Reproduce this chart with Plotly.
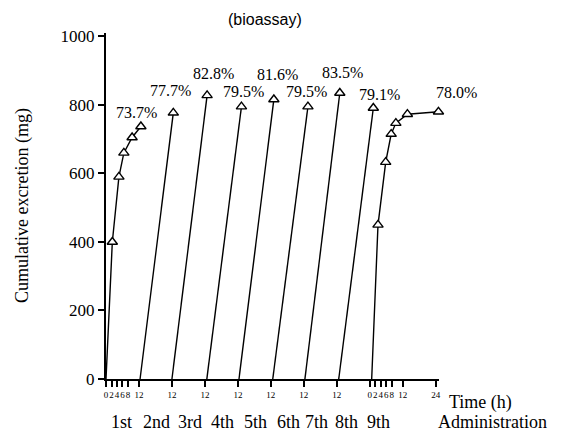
import plotly.graph_objects as go

# ---- data -------------------------------------------------------------
dose_names = ["1st", "2nd", "3rd", "4th", "5th", "6th", "7th", "8th", "9th"]
recovery_pct = [73.7, 77.7, 82.8, 79.5, 81.6, 79.5, 83.5, 79.1, 78.0]  # % of 1000 mg dose

# 1st administration: sampled collection (h, mg); last point from recovery
first_t = [0, 2.3, 4.7, 6.5, 9.5, 12.7]
first_v = [0, 400, 590, 660, 705]

# 2nd-8th administrations: 0 -> 12 h straight segments
mid_start_t = [12.4, 24.0, 36.7, 48.4, 60.7, 72.4, 84.7]
mid_end_t = [24.5, 36.8, 49.3, 61.1, 73.5, 85.1, 97.3]

# 9th administration: sampled collection up to 24 h
last_t = [96.7, 99.0, 101.8, 103.8, 105.5, 109.7, 121.0]
last_v = [0, 450, 633, 715, 747, 773]

tick_hours = [0, 2, 4, 6, 8, 12, 24, 36, 48, 60, 72, 84, 96, 98, 100, 102, 104, 108, 120]
tick_text = ["0", "2", "4", "6", "8", "12", "12", "12", "12", "12", "12", "12",
             "0", "2", "4", "6", "8", "12", "24"]

dose_mg = 1000
final_mg = [p / 100 * dose_mg for p in recovery_pct]

# ---- styling ----------------------------------------------------------
SERIF = "Liberation Serif, Times New Roman, serif"
SANS = "Liberation Sans, Arial, sans-serif"
LINE = dict(color="black", width=1.4)
MARK = dict(symbol="triangle-up", size=9, color="white",
            line=dict(color="black", width=1.4))
# label offsets (px) from each dose's final point
label_shift = [(-4, 14), (-3, 22), (6, 22), (2, 15), (4, 25),
               (-1, 15), (3, 20), (6, 14), (18, 19)]
# dose-name centres in hours
name_pos = [5.5, 18.5, 30.5, 42.5, 54.5, 66.5, 76.5, 87.5, 99.3]

fig = go.Figure()

segments = []
segments.append((first_t, first_v + [final_mg[0]]))
for s, e, v in zip(mid_start_t, mid_end_t, final_mg[1:8]):
    segments.append(([s, e], [0, v]))
segments.append((last_t, last_v + [final_mg[8]]))

for xs, ys in segments:
    fig.add_trace(go.Scatter(x=xs, y=ys, mode="lines", line=LINE,
                             hoverinfo="skip", showlegend=False, cliponaxis=False))
for xs, ys in segments:
    fig.add_trace(go.Scatter(x=xs[1:], y=ys[1:], mode="markers", marker=MARK,
                             showlegend=False, cliponaxis=False))

# percentage labels at the end of each administration
ends = [(seg[0][-1], seg[1][-1]) for seg in segments]
for (x, y), pct, (dx, dy) in zip(ends, recovery_pct, label_shift):
    fig.add_annotation(x=x, y=y, xref="x", yref="y", text=f"{pct:.1f}%",
                       showarrow=False, xshift=dx, yshift=dy,
                       font=dict(family=SERIF, size=16, color="black"))

# administration names under the time axis
for name, hx in zip(dose_names, name_pos):
    fig.add_annotation(x=hx, y=0, xref="x", yref="paper", text=name,
                       showarrow=False, yshift=-43, yanchor="middle",
                       font=dict(family=SERIF, size=18, color="black"))

fig.add_annotation(x=1, y=0, xref="paper", yref="paper", text="Administration",
                   showarrow=False, xanchor="left", xshift=-3, yshift=-43,
                   yanchor="middle", font=dict(family=SERIF, size=18, color="black"))
fig.add_annotation(x=1, y=0, xref="paper", yref="paper", text="Time (h)",
                   showarrow=False, xanchor="left", xshift=8, yshift=-23,
                   yanchor="middle", font=dict(family=SERIF, size=18, color="black"))
fig.add_annotation(x=0, y=0.5, xref="paper", yref="paper",
                   text="Cumulative excretion (mg)", textangle=-90,
                   showarrow=False, xshift=-84, xanchor="center", yanchor="middle",
                   font=dict(family=SERIF, size=18, color="black"))
fig.add_annotation(x=0.5, y=1, xref="paper", yref="paper", text="(bioassay)",
                   showarrow=False, xshift=-8, yshift=14, yanchor="middle",
                   font=dict(family=SANS, size=16, color="black"))

fig.update_xaxes(range=[0, 121.2], tickmode="array", tickvals=tick_hours,
                 ticktext=tick_text, tickangle=0, ticks="outside", ticklen=6,
                 tickwidth=1.5, tickcolor="black", showline=True, linewidth=2,
                 linecolor="black", showgrid=False, zeroline=False,
                 tickfont=dict(family=SERIF, size=9, color="black"))
fig.update_yaxes(range=[0, 1010], tickmode="array",
                 tickvals=[0, 200, 400, 600, 800, 1000],
                 ticks="outside", ticklen=6, tickwidth=1.5, tickcolor="black",
                 showline=True, linewidth=2, linecolor="black",
                 showgrid=False, zeroline=False,
                 tickfont=dict(family=SERIF, size=17, color="black"))

fig.update_layout(width=562, height=434, plot_bgcolor="white", paper_bgcolor="white",
                  margin=dict(l=106, r=123, t=33, b=55), showlegend=False)

fig.write_html("out.html")
